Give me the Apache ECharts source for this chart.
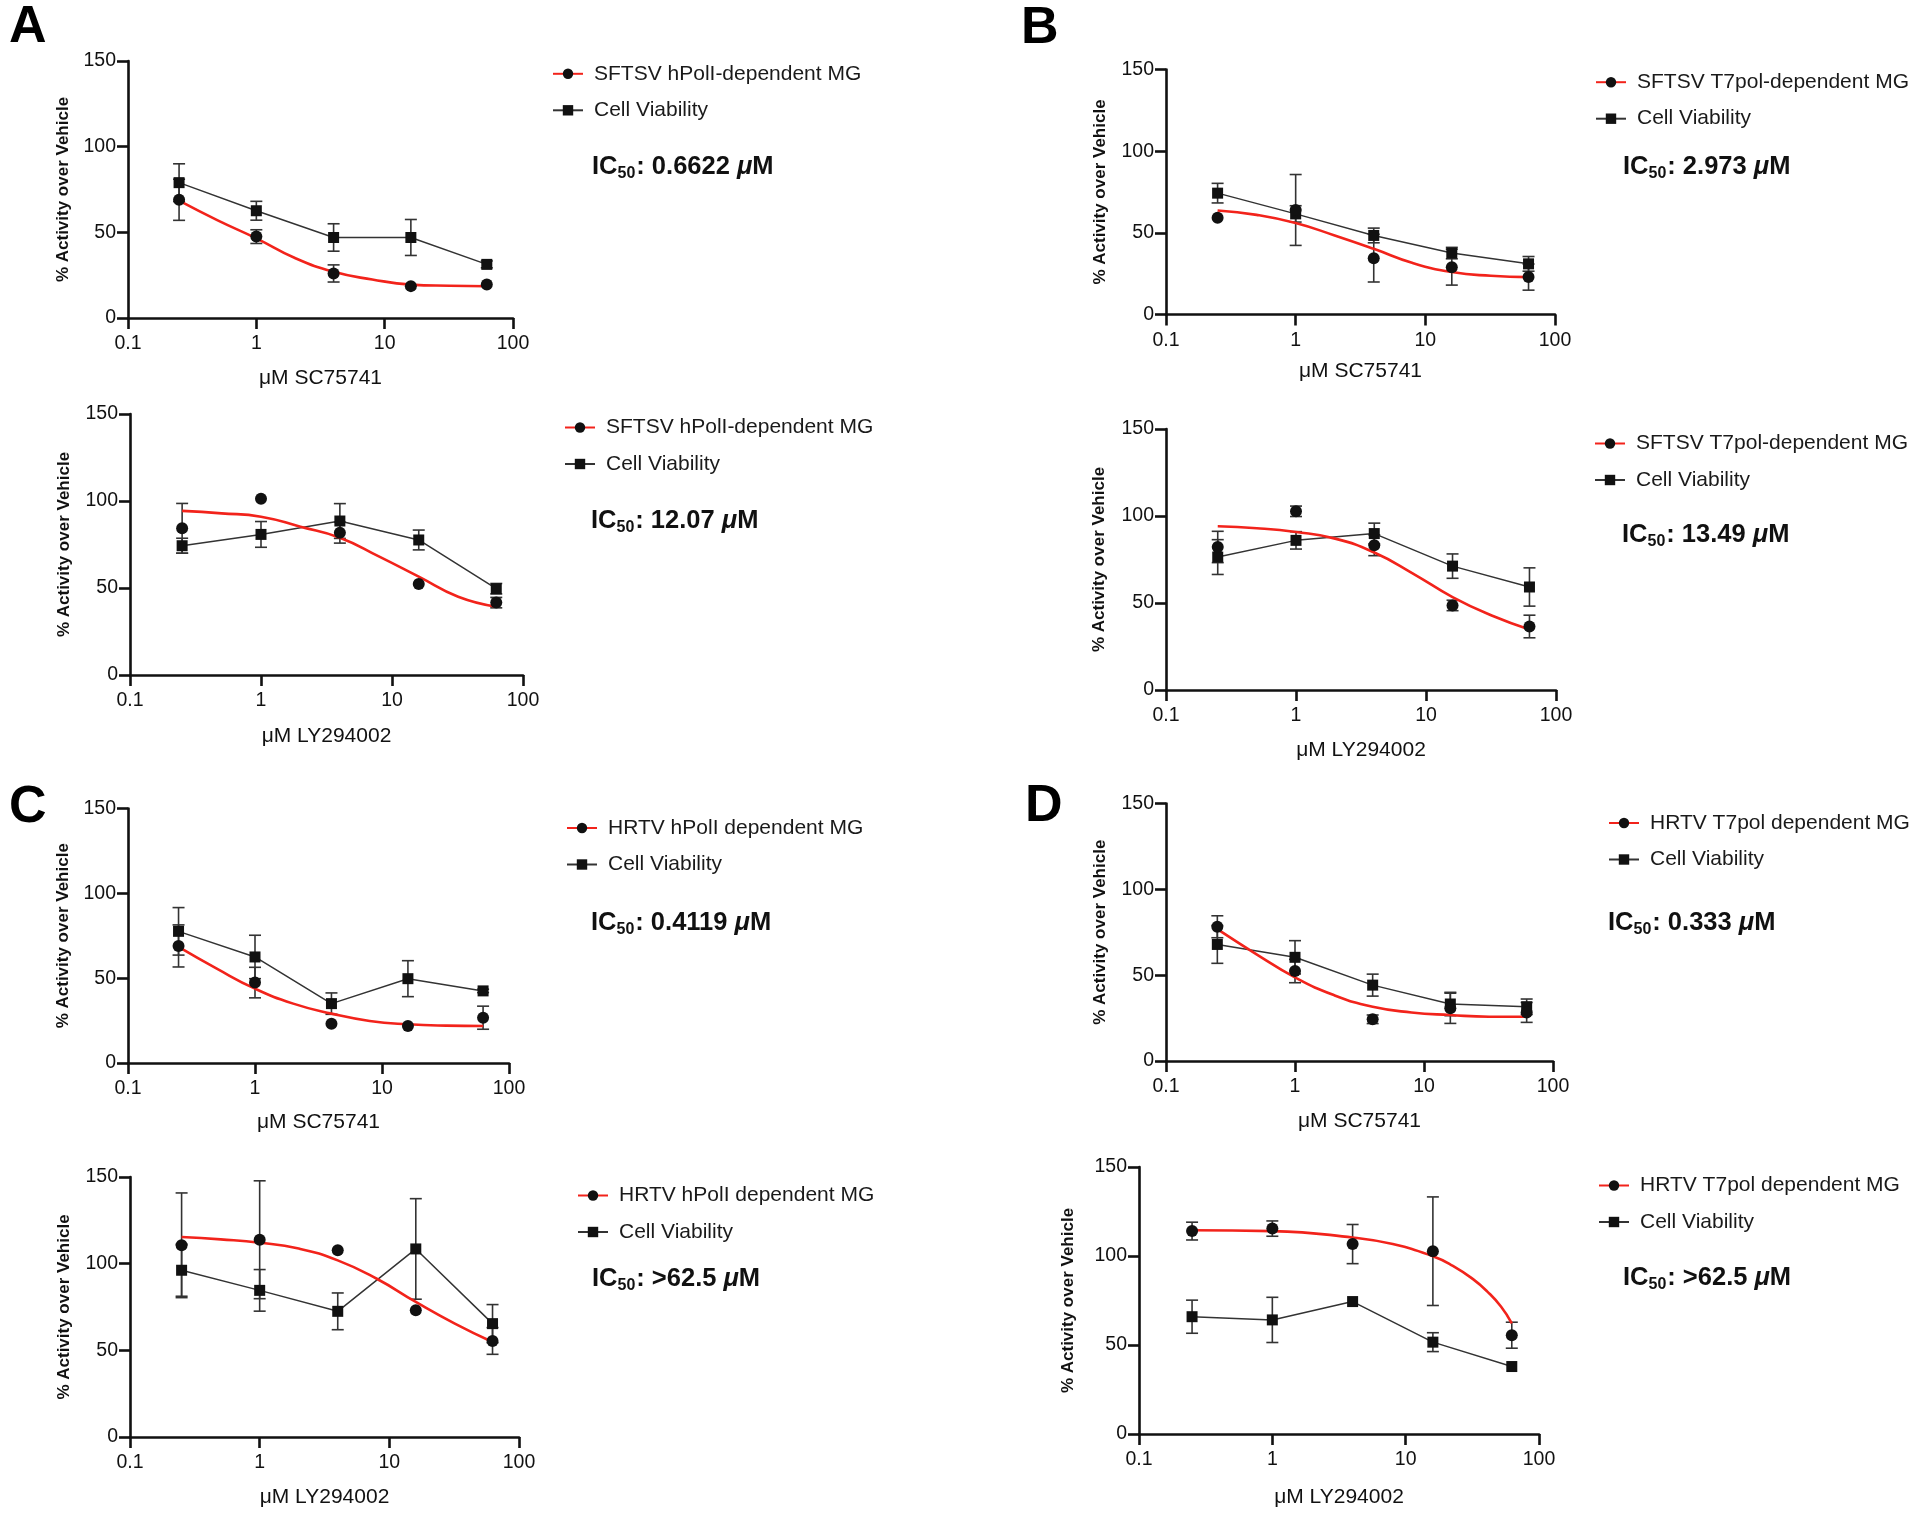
<!DOCTYPE html>
<html><head><meta charset="utf-8">
<script src="https://cdn.jsdelivr.net/npm/echarts@6/dist/echarts.min.js"></script>
<style>html,body{margin:0;padding:0;background:#fff}#c{width:1920px;height:1516px}</style>
</head><body><div id="c"></div>
<script>
// ---------- data ----------
const doses = [0.25, 1, 4, 16, 62.5];
const xTickLabels = ['0.1', '1', '10', '100'];
const yTickLabels = ['0', '50', '100', '150'];
const fitDoses = [0.25, 0.5, 1, 2, 4, 8, 16, 32, 62.5];
const fitDosesD2 = [0.25, 1, 4, 8, 16, 22.6, 32, 41, 52, 62.5];

const mgNames = ['SFTSV hPolI-dependent MG', 'SFTSV hPolI-dependent MG',
  'SFTSV T7pol-dependent MG', 'SFTSV T7pol-dependent MG',
  'HRTV hPolI dependent MG', 'HRTV hPolI dependent MG',
  'HRTV T7pol dependent MG', 'HRTV T7pol dependent MG'];
const cvName = 'Cell Viability';
const xTitles = ['μM SC75741', 'μM LY294002', 'μM SC75741', 'μM LY294002',
  'μM SC75741', 'μM LY294002', 'μM SC75741', 'μM LY294002'];
const yTitle = '% Activity over Vehicle';
const ic50Values = ['0.6622', '12.07', '2.973', '13.49', '0.4119', '>62.5', '0.333', '>62.5'];
const panelLetters = ['A', 'B', 'C', 'D'];

// A top
const A1_mg = [69, 47.5, 26, 18.6, 19.6];
const A1_mgSD = [12, 4, 5, 0, 0];
const A1_cv = [79, 62.6, 47, 47, 31.3];
const A1_cvSD = [11, 5.5, 8, 10.5, 2];
const A1_fit = [68.5, 57, 46.5, 35, 27, 22.5, 19.5, 18.8, 18.5];
// A bottom
const A2_mg = [84.3, 101.3, 81.8, 52.3, 41.6];
const A2_mgSD = [14.3, 0, 6, 0, 3];
const A2_cv = [74.3, 80.8, 88.5, 77.6, 49.6];
const A2_cvSD = [4.3, 7.4, 10, 5.7, 3];
const A2_fit = [94.3, 92.9, 91, 85.2, 78.9, 68, 56.5, 45, 39.3];
// B top
const B1_mg = [59.2, 64, 34.5, 29, 22.9];
const B1_mgSD = [0, 21.7, 14.6, 11, 8];
const B1_cv = [74.3, 61.6, 48.4, 37.6, 31];
const B1_cvSD = [6, 5, 4.5, 3.5, 4.5];
const B1_fit = [63.7, 61, 56, 48.4, 40.2, 31.5, 26, 23.7, 22.9];
// B bottom
const B2_mg = [82.2, 102.7, 83.2, 48.6, 36.5];
const B2_mgSD = [9, 3, 6, 3, 6.5];
const B2_cv = [76.4, 86, 89.9, 71.2, 59.2];
const B2_cvSD = [10, 5, 6, 7, 11];
const B2_fit = [94.1, 93, 90.8, 87, 79, 66.8, 53.4, 42.8, 34.8];
// C top
const C1_mg = [69, 47.4, 23.2, 21.8, 26.7];
const C1_mgSD = [12.4, 9, 0, 0, 6.8];
const C1_cv = [77.6, 62.5, 35, 49.7, 42.5];
const C1_cvSD = [14, 12.8, 6.3, 10.6, 1];
const C1_fit = [68.4, 55.6, 43.8, 35, 29.1, 24.8, 22.8, 22, 21.8];
// C bottom
const C2_mg = [110.6, 113.8, 107.7, 73.1, 55.4];
const C2_mgSD = [30.2, 34, 0, 0, 7.7];
const C2_cv = [96.2, 84.6, 72.5, 108.5, 65.4];
const C2_cvSD = [15, 12, 10.6, 29, 11];
const C2_fit = [115.4, 114, 112.1, 108.7, 101.9, 91.3, 77.9, 65.4, 54.8];
// D top
const D1_mg = [78.2, 52.4, 24.3, 30.7, 28.3];
const D1_mgSD = [6.4, 6.8, 2.5, 8.8, 5.8];
const D1_cv = [67.9, 60.4, 44.2, 33.2, 31.6];
const D1_cvSD = [11, 9.7, 6.4, 6.8, 4.5];
const D1_fit = [76.8, 62.3, 48.7, 38.4, 31.6, 28.3, 26.8, 25.8, 25.8];
// D bottom
const D2_mg = [114, 115.4, 106.7, 102.7, 55.5];
const D2_mgSD = [5, 4.3, 11, 30.5, 7.3];
const D2_cv = [65.9, 64.1, 74.4, 51.6, 37.9];
const D2_cvSD = [9.3, 12.7, 0, 5.3, 0];
const D2_fit = [114.5, 114, 110.4, 106.7, 99.9, 94.5, 87, 80, 71.5, 62.2];

// ---------- layout (pixels) ----------
const FONT = '"Liberation Sans", Arial, Helvetica, sans-serif';
const grids = [
  {left: 128, top: 61, width: 385, height: 257},
  {left: 130, top: 414, width: 393, height: 261},
  {left: 1166, top: 69.5, width: 389, height: 245},
  {left: 1166, top: 429, width: 390, height: 261},
  {left: 128, top: 808.5, width: 381, height: 254.5},
  {left: 130, top: 1177, width: 389, height: 260},
  {left: 1166, top: 803.5, width: 387, height: 257.5},
  {left: 1139, top: 1167, width: 400, height: 267}
];
const xNameGaps = [50, 51, 46, 50, 49, 50, 50, 53];
const yNameGaps = [56, 57, 57, 58, 56, 57, 57, 62];
const legendPos = [[552, 63.3], [564, 417], [1595, 71.7], [1594, 433], [566, 817.5], [577, 1185], [1608, 812.5], [1598, 1175]];
const icPos = [[592, 167], [591, 521], [1623, 167], [1622, 535], [591, 923], [592, 1279], [1608, 923], [1623, 1278]];
const letterPos = [[9, 28], [1021, 29], [9, 808], [1025, 807]];

const panels = [
  {mg: A1_mg, mgSD: A1_mgSD, cv: A1_cv, cvSD: A1_cvSD, fitX: fitDoses, fit: A1_fit},
  {mg: A2_mg, mgSD: A2_mgSD, cv: A2_cv, cvSD: A2_cvSD, fitX: fitDoses, fit: A2_fit},
  {mg: B1_mg, mgSD: B1_mgSD, cv: B1_cv, cvSD: B1_cvSD, fitX: fitDoses, fit: B1_fit},
  {mg: B2_mg, mgSD: B2_mgSD, cv: B2_cv, cvSD: B2_cvSD, fitX: fitDoses, fit: B2_fit},
  {mg: C1_mg, mgSD: C1_mgSD, cv: C1_cv, cvSD: C1_cvSD, fitX: fitDoses, fit: C1_fit},
  {mg: C2_mg, mgSD: C2_mgSD, cv: C2_cv, cvSD: C2_cvSD, fitX: fitDoses, fit: C2_fit},
  {mg: D1_mg, mgSD: D1_mgSD, cv: D1_cv, cvSD: D1_cvSD, fitX: fitDoses, fit: D1_fit},
  {mg: D2_mg, mgSD: D2_mgSD, cv: D2_cv, cvSD: D2_cvSD, fitX: fitDosesD2, fit: D2_fit}
];

const AXIS_COLOR = '#111';
function errSeries(idx, ys, sds, z) {
  const data = [];
  doses.forEach((x, i) => { if (sds[i] > 0) data.push([x, ys[i] - sds[i], ys[i] + sds[i]]); });
  return {
    type: 'custom', xAxisIndex: idx, yAxisIndex: idx, z: z, silent: true, data: data,
    encode: {x: 0, y: [1, 2]},
    renderItem: function (params, api) {
      const x = api.value(0), lo = api.value(1), hi = api.value(2);
      const pHi = api.coord([x, hi]), pLo = api.coord([x, lo]);
      const w = 6;
      const st = {stroke: '#333', lineWidth: 1.6, fill: null};
      return {type: 'group', children: [
        {type: 'line', shape: {x1: pHi[0], y1: pHi[1], x2: pLo[0], y2: pLo[1]}, style: st},
        {type: 'line', shape: {x1: pHi[0] - w, y1: pHi[1], x2: pHi[0] + w, y2: pHi[1]}, style: st},
        {type: 'line', shape: {x1: pLo[0] - w, y1: pLo[1], x2: pLo[0] + w, y2: pLo[1]}, style: st}
      ]};
    }
  };
}

const option = {
  animation: false,
  backgroundColor: '#fff',
  textStyle: {fontFamily: FONT},
  grid: grids.map(g => Object.assign({containLabel: false}, g)),
  xAxis: grids.map((g, i) => ({
    type: 'log', logBase: 10, min: 0.1, max: 100, gridIndex: i,
    name: xTitles[i], nameLocation: 'middle', nameGap: xNameGaps[i],
    nameTextStyle: {fontSize: 21, color: '#111', fontFamily: FONT},
    axisLine: {onZero: false, lineStyle: {color: AXIS_COLOR, width: 2.6}},
    axisTick: {length: 11, lineStyle: {color: AXIS_COLOR, width: 2.6}},
    minorTick: {show: false},
    splitLine: {show: false},
    axisLabel: {fontSize: 19.5, color: '#111', margin: 16, fontFamily: FONT,
      formatter: v => xTickLabels[Math.round(Math.log10(v)) + 1]}
  })),
  yAxis: grids.map((g, i) => ({
    type: 'value', min: 0, max: 150, interval: 50, gridIndex: i,
    name: yTitle, nameLocation: 'middle', nameGap: yNameGaps[i],
    nameTextStyle: {fontSize: 17, fontWeight: 'bold', color: '#111', fontFamily: FONT},
    axisLine: {show: true, onZero: false, lineStyle: {color: AXIS_COLOR, width: 2.6}},
    axisTick: {show: true, length: 11, lineStyle: {color: AXIS_COLOR, width: 2.6}},
    splitLine: {show: false},
    axisLabel: {fontSize: 19.5, color: '#111', margin: 12, fontFamily: FONT,
      formatter: v => yTickLabels[Math.round(v / 50)]}
  })),
  legend: panels.map((p, i) => ({
    data: [mgNames[i], cvName], orient: 'vertical',
    left: legendPos[i][0], top: legendPos[i][1], padding: 0,
    itemWidth: 30, itemHeight: 13, itemGap: 15.5, selectedMode: false,
    textStyle: {fontSize: 21, color: '#1a1a1a', fontFamily: FONT, lineHeight: 20, padding: [0, 0, 0, 6]}
  })),
  series: [],
  graphic: []
};

panels.forEach((p, i) => {
  option.series.push(errSeries(i, p.cv, p.cvSD, 2));
  option.series.push({
    type: 'line', name: cvName, xAxisIndex: i, yAxisIndex: i, z: 3,
    data: doses.map((x, k) => [x, p.cv[k]]),
    symbol: 'rect', symbolSize: 11, showSymbol: true,
    lineStyle: {color: '#333', width: 1.5}, itemStyle: {color: '#111', opacity: 1},
    emphasis: {disabled: true}
  });
  option.series.push(errSeries(i, p.mg, p.mgSD, 2));
  option.series.push({
    type: 'line', name: mgNames[i], xAxisIndex: i, yAxisIndex: i, z: 4,
    data: p.fitX.map((x, k) => [x, p.fit[k]]),
    smooth: 0.5, symbol: 'circle', showSymbol: false,
    lineStyle: {color: '#f2231b', width: 2.6}, itemStyle: {color: '#111'},
    emphasis: {disabled: true}
  });
  option.series.push({
    type: 'scatter', name: mgNames[i] + ' data', xAxisIndex: i, yAxisIndex: i, z: 5,
    data: doses.map((x, k) => [x, p.mg[k]]),
    symbol: 'circle', symbolSize: 12, itemStyle: {color: '#111', opacity: 1},
    emphasis: {disabled: true}
  });
  option.graphic.push({
    type: 'text', x: icPos[i][0], y: icPos[i][1],
    style: {
      text: '{a|IC}{s|50}{a|: ' + ic50Values[i] + ' }{m|μ}{a|M}',
      verticalAlign: 'middle', align: 'left',
      rich: {
        a: {fontSize: 25.5, fontWeight: 'bold', fontFamily: FONT, lineHeight: 30, fill: '#111', verticalAlign: 'middle'},
        s: {fontSize: 16, fontWeight: 'bold', fontFamily: FONT, fill: '#111', verticalAlign: 'bottom', padding: [0, 1, 0, 0]},
        m: {fontSize: 25.5, fontWeight: 'bold', fontStyle: 'italic', fontFamily: FONT, lineHeight: 30, fill: '#111', verticalAlign: 'middle'}
      }
    }
  });
});

panelLetters.forEach((L, i) => {
  option.graphic.push({
    type: 'text', x: letterPos[i][0], y: letterPos[i][1],
    style: {text: L, fontSize: 52, fontWeight: 'bold', fontFamily: FONT, fill: '#000', verticalAlign: 'middle', align: 'left'}
  });
});

const chart = echarts.init(document.getElementById('c'), null, {renderer: 'canvas'});
chart.setOption(option);
</script>
</body></html>
